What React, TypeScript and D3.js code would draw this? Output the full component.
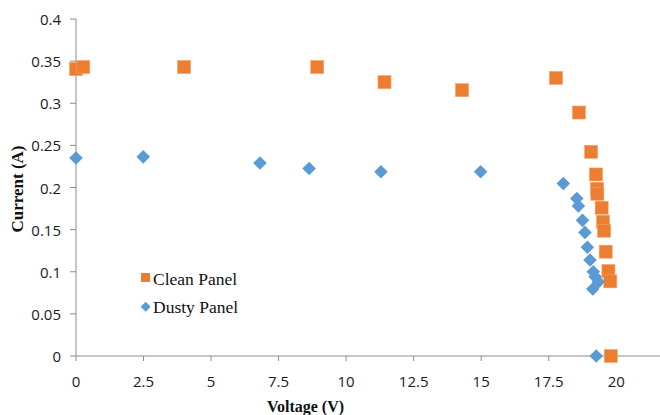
import React from "react";
import * as d3 from "d3";

// Clean panel I-V measurements
const cleanVoltage = [0, 0.27, 4.0, 8.93, 11.42, 14.29, 17.77, 18.62, 19.07, 19.25, 19.29, 19.3, 19.46, 19.51, 19.55, 19.61, 19.71, 19.78, 19.8];
const cleanCurrent = [0.3405, 0.343, 0.343, 0.343, 0.325, 0.3155, 0.33, 0.289, 0.2424, 0.2155, 0.1985, 0.1926, 0.176, 0.1594, 0.1487, 0.1238, 0.1008, 0.0886, 0];

// Dusty panel I-V measurements
const dustyVoltage = [0, 2.49, 6.81, 8.63, 11.29, 14.98, 18.04, 18.54, 18.6, 18.75, 18.84, 18.93, 19.03, 19.15, 19.22, 19.34, 19.13, 19.26];
const dustyCurrent = [0.235, 0.2364, 0.229, 0.2226, 0.2187, 0.2187, 0.2048, 0.187, 0.178, 0.161, 0.1467, 0.129, 0.1139, 0.1, 0.094, 0.088, 0.0795, 0];

const xTicks = [0, 2.5, 5, 7.5, 10, 12.5, 15, 17.5, 20];
const yTicks = [0, 0.05, 0.1, 0.15, 0.2, 0.25, 0.3, 0.35, 0.4];

const seriesNames = ["Clean Panel", "Dusty Panel"];
const xTitle = "Voltage (V)";
const yTitle = "Current (A)";

const W = 660;
const H = 415;
const ORANGE = "#ED7D31";
const BLUE = "#5B9BD5";
const AXIS = "#8c8c8c";
const TICK_FONT = "'Open Sans', 'Noto Sans', sans-serif";
const SERIF = "'Liberation Serif', 'Times New Roman', serif";

export default function App() {
  const x = d3.scaleLinear().domain([0, 21.62]).range([76, 660]);
  const y = d3.scaleLinear().domain([0, 0.4]).range([356, 19]);

  const clean = cleanVoltage.map((v, i) => ({ v, c: cleanCurrent[i] }));
  const dusty = dustyVoltage.map((v, i) => ({ v, c: dustyCurrent[i] }));

  const sq = 13;
  const dia = 6.8;
  const diamondPath = (cx: number, cy: number, r: number) =>
    `M${cx},${cy - r}L${cx + r},${cy}L${cx},${cy + r}L${cx - r},${cy}Z`;

  return (
    <svg
      width={W}
      height={H}
      style={{ position: "absolute", left: 0, top: 0, background: "#fff" }}
    >
      {/* axes */}
      <line x1={x(0)} x2={W} y1={y(0)} y2={y(0)} stroke={AXIS} strokeWidth={1} />
      <line x1={x(0)} x2={x(0)} y1={y(0.4)} y2={y(0)} stroke={AXIS} strokeWidth={1} />

      {yTicks.map((t) => (
        <g key={"y" + t}>
          <line x1={x(0) - 6} x2={x(0)} y1={y(t)} y2={y(t)} stroke={AXIS} />
          <text
            x={61}
            y={y(t)}
            textAnchor="end"
            dominantBaseline="central"
            fontFamily={TICK_FONT}
            fontSize={15}
            fill="#1a1a1a"
          >
            {d3.format("")(t)}
          </text>
        </g>
      ))}

      {xTicks.map((t) => (
        <g key={"x" + t}>
          <line x1={x(t)} x2={x(t)} y1={y(0)} y2={y(0) + 5} stroke={AXIS} />
          <text
            x={x(t)}
            y={381}
            textAnchor="middle"
            dominantBaseline="central"
            fontFamily={TICK_FONT}
            fontSize={15}
            fill="#1a1a1a"
          >
            {t}
          </text>
        </g>
      ))}

      {/* axis titles */}
      <text
        x={305.5}
        y={412}
        textAnchor="middle"
        fontFamily={SERIF}
        fontWeight="bold"
        fontSize={16}
        fill="#111"
      >
        {xTitle}
      </text>
      <text
        transform={`translate(23,189) rotate(-90)`}
        textAnchor="middle"
        fontFamily={SERIF}
        fontWeight="bold"
        fontSize={17}
        fill="#111"
      >
        {yTitle}
      </text>

      {/* data */}
      {clean.map((d, i) => (
        <rect
          key={"c" + i}
          x={x(d.v) - sq / 2}
          y={y(d.c) - sq / 2}
          width={sq}
          height={sq}
          fill={ORANGE}
          stroke="#f3a06a"
          strokeWidth={0.6}
        />
      ))}
      {dusty.map((d, i) => (
        <path key={"d" + i} d={diamondPath(x(d.v), y(d.c), dia)} fill={BLUE} />
      ))}

      {/* legend */}
      <rect x={141} y={273} width={9} height={9} fill={ORANGE} />
      <text x={153} y={285} fontFamily={SERIF} fontSize={17.5} fill="#111">
        {seriesNames[0]}
      </text>
      <path d={diamondPath(145.7, 306.7, 5)} fill={BLUE} />
      <text x={153} y={312.5} fontFamily={SERIF} fontSize={17.5} fill="#111">
        {seriesNames[1]}
      </text>
    </svg>
  );
}
